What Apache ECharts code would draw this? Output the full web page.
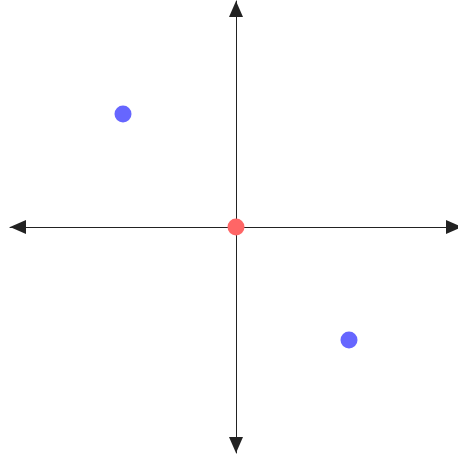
<!DOCTYPE html>
<html>
<head>
<meta charset="utf-8">
<script src="https://cdn.jsdelivr.net/npm/echarts@6/dist/echarts.min.js"></script>
<style>
  html, body { margin: 0; padding: 0; background: #fff; }
  #chart { width: 458px; height: 456px; }
</style>
</head>
<body>
<div id="chart"></div>
<script>
var bluePoints = [[-1, 1], [1, -1]];
var redPoints = [[0, 0]];
var axisRange = [-2, 2];

var myChart = echarts.init(document.getElementById('chart'));
var axisCommon = {
  type: 'value',
  min: axisRange[0],
  max: axisRange[1],
  axisLine: {
    onZero: true,
    symbol: ['triangle', 'triangle'],
    symbolSize: [14, 16],
    symbolOffset: [8, -8],
    lineStyle: { color: '#222', width: 1 }
  },
  axisTick: { show: false },
  axisLabel: { show: false },
  splitLine: { show: false }
};
var option = {
  animation: false,
  grid: { left: 10, top: 1, width: 452, height: 452, outerBoundsMode: 'none' },
  xAxis: axisCommon,
  yAxis: axisCommon,
  series: [
    {
      name: 'blue',
      type: 'scatter',
      symbolSize: 17,
      itemStyle: { color: '#6666ff', opacity: 1 },
      data: bluePoints
    },
    {
      name: 'red',
      type: 'scatter',
      symbolSize: 17,
      itemStyle: { color: '#ff6666', opacity: 1 },
      data: redPoints
    }
  ]
};
myChart.setOption(option);
</script>
</body>
</html>
